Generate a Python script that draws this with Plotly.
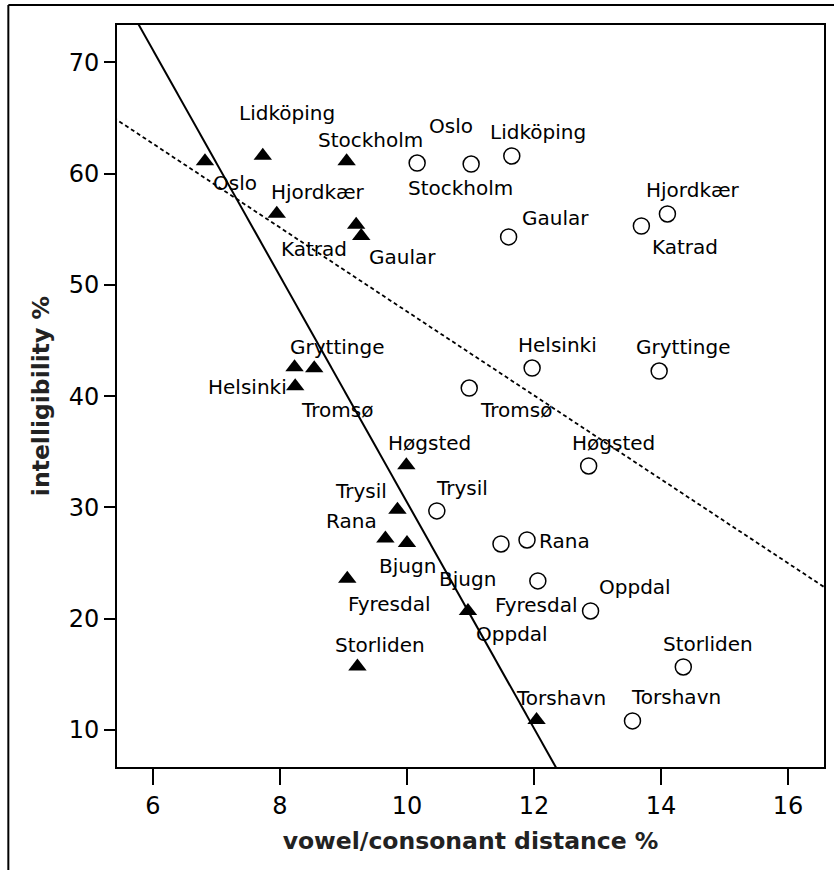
import plotly.graph_objects as go

# ---- data ----
cities = ["Oslo", "Lidköping", "Stockholm", "Hjordkær", "Katrad", "Gaular",
          "Helsinki", "Gryttinge", "Tromsø", "Høgsted", "Trysil", "Rana",
          "Bjugn", "Fyresdal", "Oppdal", "Storliden", "Torshavn"]

# filled triangles
tri_x = [6.82, 7.73, 9.05, 7.95, 9.20, 9.28, 8.24, 8.23, 8.54, 9.99, 9.85, 9.66,
         10.00, 9.06, 10.96, 9.22, 12.04]
tri_y = [61.1, 61.6, 61.1, 56.4, 55.4, 54.4, 40.9, 42.6, 42.5, 33.8, 29.8, 27.2,
         26.8, 23.6, 20.7, 15.7, 10.9]

# open circles
circ_x = [11.01, 11.65, 10.16, 14.10, 13.69, 11.60, 11.97, 13.97, 10.98, 12.86, 10.47, 11.89,
          11.48, 12.06, 12.89, 14.35, 13.55]
circ_y = [60.86, 61.58, 60.95, 56.37, 55.29, 54.31, 42.53, 42.26, 40.73, 33.73, 29.69, 27.08,
          26.72, 23.40, 20.70, 15.67, 10.82]

# regression lines (intercept, slope)
tri_fit = (132.07, -10.16)
circ_fit = (85.31, -3.77)

x_ticks = [6, 8, 10, 12, 14, 16]
y_ticks = [10, 20, 30, 40, 50, 60, 70]
x_range = [5.435, 16.565]
y_range = [6.68, 73.35]

# label offsets in pixels (dx right, dy down) relative to each marker
tri_off = [(30, 22), (24, -43), (24, -21), (41, -22), (-42, 24), (41, 21),
           (-48, 1), (42, -20), (23, 42), (23, -22), (-36, -19), (-34, -18),
           (1, 23), (42, 25), (44, 23), (23, -22), (24, -22)]
circ_off = [(-20, -38), (26, -24), (43, 25), (26, -24), (44, 21), (47, -19),
            (25, -23), (24, -24), (47, 22), (25, -23), (25, -23), (37, 1),
            (-33, 35), (-1, 24), (44, -24), (25, -23), (44, -24)]

FONT = "DejaVu Sans"

fig = go.Figure()

# regression lines across the x range
lx = [4.0, 18.0]
fig.add_trace(go.Scatter(x=lx, y=[tri_fit[0] + tri_fit[1] * v for v in lx], mode="lines",
                         line=dict(color="black", width=2), hoverinfo="skip", showlegend=False))
fig.add_trace(go.Scatter(x=lx, y=[circ_fit[0] + circ_fit[1] * v for v in lx], mode="lines",
                         line=dict(color="black", width=1.8, dash="4px,3px"),
                         hoverinfo="skip", showlegend=False))

fig.add_trace(go.Scatter(x=tri_x, y=tri_y, mode="markers",
                         marker=dict(symbol="triangle-up", size=16, color="black",
                                     line=dict(width=0)),
                         showlegend=False, cliponaxis=False))
fig.add_trace(go.Scatter(x=circ_x, y=circ_y, mode="markers",
                         marker=dict(symbol="circle-open", size=16, color="black",
                                     line=dict(width=1.5)),
                         showlegend=False, cliponaxis=False))

annotations = []
for name, x, y, (dx, dy) in zip(cities, tri_x, tri_y, tri_off):
    annotations.append(dict(x=x, y=y, xref="x", yref="y", text=name, showarrow=False,
                            xshift=dx, yshift=-dy, xanchor="center", yanchor="middle",
                            font=dict(family=FONT, size=20, color="black")))
for name, x, y, (dx, dy) in zip(cities, circ_x, circ_y, circ_off):
    annotations.append(dict(x=x, y=y, xref="x", yref="y", text=name, showarrow=False,
                            xshift=dx, yshift=-dy, xanchor="center", yanchor="middle",
                            font=dict(family=FONT, size=20, color="black")))

fig.update_layout(
    width=834, height=870,
    margin=dict(l=117, r=8, t=25, b=103),
    paper_bgcolor="white", plot_bgcolor="white",
    annotations=annotations,
    shapes=[
        dict(type="line", xref="paper", yref="paper", x0=-0.1537, x1=1.1, y0=1.027, y1=1.027,
             line=dict(color="black", width=2)),
        dict(type="line", xref="paper", yref="paper", x0=-0.1537, x1=-0.1537, y0=1.027, y1=-0.3,
             line=dict(color="black", width=2)),
    ],
    xaxis=dict(range=x_range, tickvals=x_ticks, ticks="outside", ticklen=16, tickwidth=2,
               tickcolor="black", showline=True, linecolor="black", linewidth=2, mirror=True,
               showgrid=False, zeroline=False,
               tickfont=dict(family=FONT, size=24, color="black"),
               title=dict(text="<b>vowel/consonant distance %</b>", standoff=14,
                          font=dict(family=FONT, size=23.5, color="#222"))),
    yaxis=dict(range=y_range, tickvals=y_ticks, ticks="outside", ticklen=11, tickwidth=2,
               tickcolor="black", showline=True, linecolor="black", linewidth=2, mirror=True,
               showgrid=False, zeroline=False,
               tickfont=dict(family=FONT, size=24, color="black"),
               title=dict(text="<b>intelligibility %</b>", standoff=12,
                          font=dict(family=FONT, size=23.5, color="#222"))),
)

fig.write_html("out.html", config={"displayModeBar": False},
               post_script="document.body.style.margin='0';document.body.style.overflow='hidden';")
